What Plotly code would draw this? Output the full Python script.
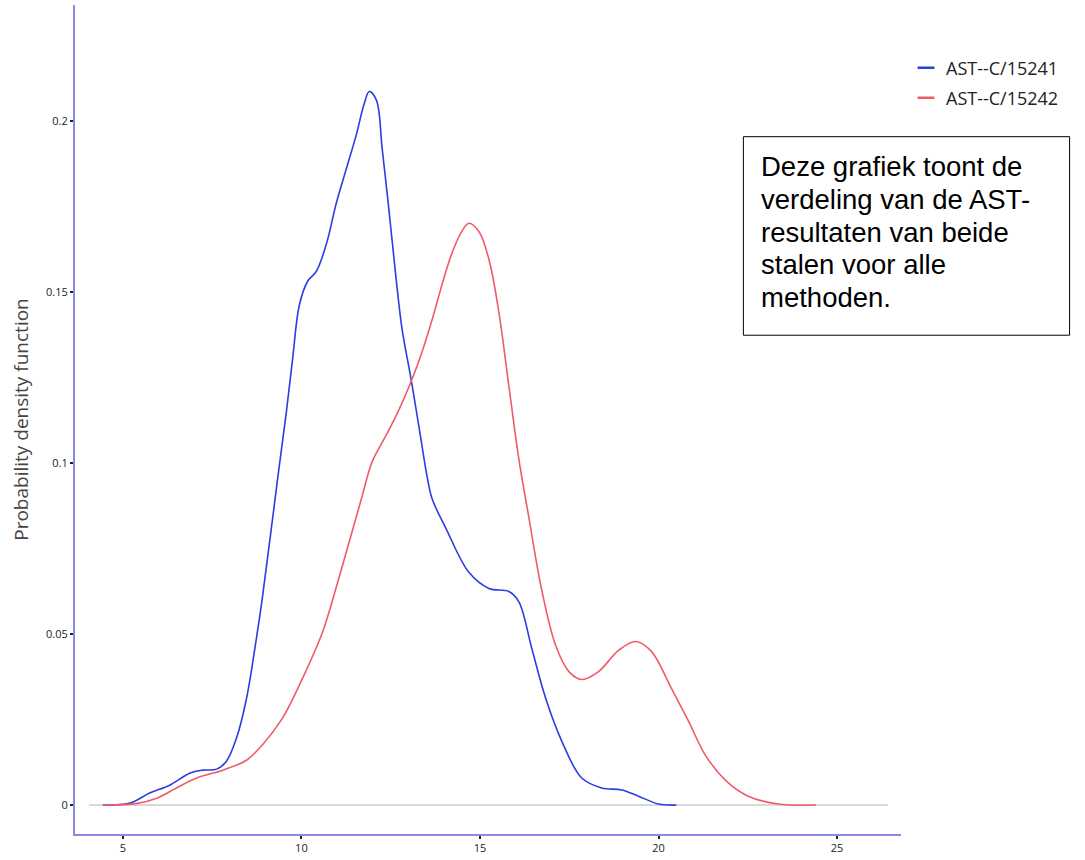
import plotly.graph_objects as go

# ---- data ----
series_names = ["AST--C/15241", "AST--C/15242"]

x_15241 = [4.44, 5.2, 5.75, 6.31, 6.87, 7.23, 7.63, 7.9, 8.18, 8.46, 8.74, 8.9,
           9.33, 9.58, 9.75, 9.94, 10.17, 10.42, 10.7, 10.98, 11.26, 11.54, 11.76,
           11.9, 12.1, 12.26, 12.46, 12.65, 12.82, 13.07, 13.3, 13.52, 13.66,
           14.05, 14.69, 15.25, 15.81, 16.09, 16.45, 16.84, 17.29, 17.85, 18.41,
           18.97, 19.44, 20.0, 20.5]
y_15241 = [0.0, 0.0006, 0.0035, 0.0058, 0.0093, 0.0102, 0.0105, 0.0128, 0.0195,
           0.031, 0.0487, 0.060, 0.095, 0.115, 0.130, 0.146, 0.153, 0.156, 0.164,
           0.176, 0.186, 0.196, 0.205, 0.2085, 0.206, 0.192, 0.173, 0.154, 0.139,
           0.1245, 0.110, 0.096, 0.0895, 0.0808, 0.068, 0.0633, 0.0624, 0.0594,
           0.0458, 0.0312, 0.0187, 0.0079, 0.005, 0.0044, 0.0026, 0.0003, 0.0]

x_15242 = [4.44, 5.4, 5.95, 6.5, 7.07, 7.8, 8.46, 8.9, 9.47, 10.03, 10.59, 10.98,
           11.34, 11.68, 11.98, 12.37, 12.74, 13.1, 13.38, 13.66, 13.94, 14.22,
           14.5, 14.69, 14.97, 15.25, 15.53, 15.81, 16.09, 16.37, 16.73, 17.12,
           17.49, 17.85, 18.32, 18.88, 19.36, 19.8, 20.36, 20.84, 21.31, 21.87,
           22.51, 23.35, 24.41]
y_15242 = [0.0, 0.0005, 0.002, 0.005, 0.0079, 0.0102, 0.0131, 0.0175, 0.0254,
           0.037, 0.0505, 0.0638, 0.077, 0.0895, 0.1003, 0.108, 0.1157, 0.1245,
           0.1325, 0.1418, 0.1522, 0.1614, 0.1678, 0.170, 0.1676, 0.1595, 0.144,
           0.1224, 0.101, 0.0840, 0.0628, 0.0466, 0.039, 0.0367, 0.039, 0.0452,
           0.0478, 0.0449, 0.0341, 0.0245, 0.0146, 0.0073, 0.0026, 0.0003, 0.0]

x_ticks = [5, 10, 15, 20, 25]
y_ticks = [0, 0.05, 0.1, 0.15, 0.2]
y_tick_labels = ["0", "0.05", "0.1", "0.15", "0.2"]

note_lines = ["Deze grafiek toont de", "verdeling van de AST-", "resultaten van beide",
              "stalen voor alle", "methoden."]

colors = ["#2b3ee0", "#ef5b68"]

# ---- figure ----
W, H = 1085, 860
ml, mr, mt, mb = 75, 182, 5, 24
pw, ph = W - ml - mr, H - mt - mb


def px_x(px):
    return (px - ml) / pw


def px_y(py):
    return (H - mb - py) / ph


fig = go.Figure()
legends = ["legend", "legend2"]
legend_y = [68, 98]
for xs, ys, name, col, lg in [(x_15241, y_15241, series_names[0], colors[0], legends[0]),
                              (x_15242, y_15242, series_names[1], colors[1], legends[1])]:
    fig.add_trace(go.Scatter(x=xs, y=ys, mode="lines", name=name, showlegend=False,
                             line=dict(color=col, width=1.6, shape="spline", smoothing=1.0)))
    # legend entry with a short dash swatch
    fig.add_trace(go.Scatter(x=[None], y=[None], mode="markers", name=name, legend=lg,
                             marker=dict(symbol="line-ew", size=12, color=col,
                                         line=dict(color=col, width=2.5))))

# grey baseline at zero
fig.add_shape(type="line", xref="x", yref="y", x0=4.05, x1=26.42, y0=0, y1=0,
              line=dict(color="#cccccc", width=1.5), layer="below")

# text box
fig.add_shape(type="rect", xref="paper", yref="paper",
              x0=px_x(745), x1=px_x(1072), y0=px_y(336), y1=px_y(137),
              line=dict(color="black", width=1), fillcolor="white")
line_y = [167, 200, 233, 265, 298]
for t, py in zip(note_lines, line_y):
    fig.add_annotation(text=t, xref="paper", yref="paper", x=px_x(761), y=px_y(py),
                       xanchor="left", yanchor="middle", align="left", showarrow=False,
                       font=dict(family="Liberation Sans, Arial", size=27.5, color="black"))

leg_common = dict(xref="container", yref="container", xanchor="left", yanchor="middle",
                  bgcolor="rgba(0,0,0,0)",
                  font=dict(size=18, color="#222222", family="Open Sans, DejaVu Sans"))

fig.update_layout(
    width=W, height=H,
    margin=dict(l=ml, r=mr, t=mt, b=mb),
    paper_bgcolor="white", plot_bgcolor="white",
    font=dict(family="Open Sans, DejaVu Sans", color="#222222"),
    legend=dict(x=906 / W, y=1 - legend_y[0] / H, **leg_common),
    legend2=dict(x=906 / W, y=1 - legend_y[1] / H, **leg_common),
    xaxis=dict(range=[3.66, 26.79], tickvals=x_ticks, showgrid=False, zeroline=False,
               showline=True, linecolor="#8a8ae2", linewidth=2,
               ticks="outside", ticklen=3, tickwidth=2, tickcolor="#1a1a40",
               tickfont=dict(size=11, color="#222222")),
    yaxis=dict(range=[-0.00846, 0.2338], tickvals=y_ticks, ticktext=y_tick_labels,
               showgrid=False, zeroline=False,
               showline=True, linecolor="#8a8ae2", linewidth=2,
               ticks="outside", ticklen=3, tickwidth=2, tickcolor="#1a1a40",
               tickfont=dict(size=11, color="#222222"),
               title=dict(text="Probability density function", standoff=12,
                          font=dict(size=19, color="#444444"))),
)

fig.write_html("out.html")
